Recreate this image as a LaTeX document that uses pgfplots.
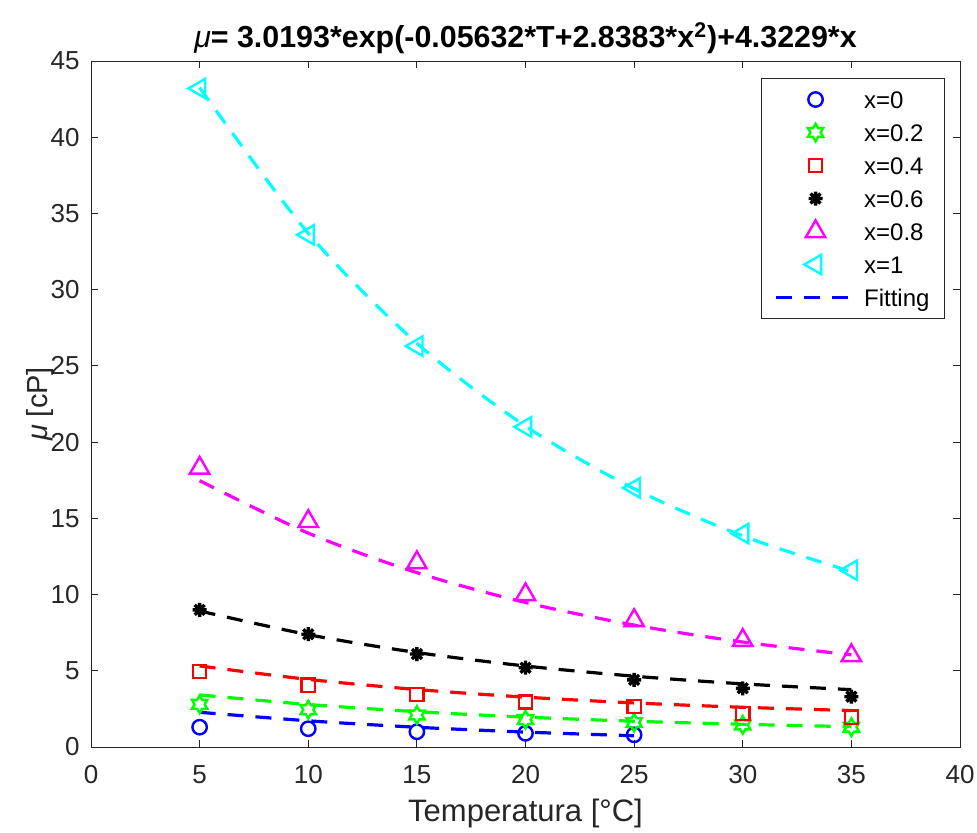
\documentclass[border=0pt]{standalone}
\usepackage{pgfplots}
\pgfplotsset{compat=1.18}
\usepackage{fontspec}
\setmainfont{Liberation Sans}
\definecolor{mlgray}{RGB}{38,38,38}
\definecolor{mlgreen}{RGB}{0,255,0}
\definecolor{mlblue}{RGB}{0,0,255}
\definecolor{mlred}{RGB}{255,0,0}
\definecolor{mlmag}{RGB}{255,0,255}
\definecolor{mlcyan}{RGB}{0,255,255}
\pgfdeclareplotmark{hexagram}{%
  \pgfpathmoveto{\pgfpointpolar{90}{\pgfplotmarksize}}%
  \pgfpathlineto{\pgfpointpolar{120}{0.57735\pgfplotmarksize}}%
  \pgfpathlineto{\pgfpointpolar{150}{\pgfplotmarksize}}%
  \pgfpathlineto{\pgfpointpolar{180}{0.57735\pgfplotmarksize}}%
  \pgfpathlineto{\pgfpointpolar{210}{\pgfplotmarksize}}%
  \pgfpathlineto{\pgfpointpolar{240}{0.57735\pgfplotmarksize}}%
  \pgfpathlineto{\pgfpointpolar{270}{\pgfplotmarksize}}%
  \pgfpathlineto{\pgfpointpolar{300}{0.57735\pgfplotmarksize}}%
  \pgfpathlineto{\pgfpointpolar{330}{\pgfplotmarksize}}%
  \pgfpathlineto{\pgfpointpolar{0}{0.57735\pgfplotmarksize}}%
  \pgfpathlineto{\pgfpointpolar{30}{\pgfplotmarksize}}%
  \pgfpathlineto{\pgfpointpolar{60}{0.57735\pgfplotmarksize}}%
  \pgfpathclose
  \pgfusepathqstroke}
\pgfdeclareplotmark{mstar}{%
  \pgfpathmoveto{\pgfqpoint{0pt}{\pgfplotmarksize}}%
  \pgfpathlineto{\pgfqpoint{0pt}{-\pgfplotmarksize}}%
  \pgfpathmoveto{\pgfqpoint{\pgfplotmarksize}{0pt}}%
  \pgfpathlineto{\pgfqpoint{-\pgfplotmarksize}{0pt}}%
  \pgfpathmoveto{\pgfpointpolar{45}{\pgfplotmarksize}}%
  \pgfpathlineto{\pgfpointpolar{225}{\pgfplotmarksize}}%
  \pgfpathmoveto{\pgfpointpolar{135}{\pgfplotmarksize}}%
  \pgfpathlineto{\pgfpointpolar{315}{\pgfplotmarksize}}%
  \pgfusepathqstroke}
\pgfplotsset{mylegimg/.style={legend image code/.code={\draw[mark repeat=2,mark phase=2,##1] plot coordinates {(0pt,0pt) (20pt,0pt) (40pt,0pt)};}}}
\begin{document}
\begin{tikzpicture}
\path[use as bounding box] (-45.5pt,-42.5pt) rectangle (443pt,373.5pt);
\begin{axis}[
  scale only axis, width=434.5pt, height=343pt,
  xmin=0, xmax=40, ymin=0, ymax=45,
  xtick={0,5,...,40}, ytick={0,5,...,45},
  tick align=inside, major tick length=3.5pt,
  axis line style={mlgray, line width=0.5pt},
  every tick/.style={mlgray, line width=0.5pt},
  /pgf/number format/assume math mode=true,
  ticklabel style={font=\fontsize{13}{15}\selectfont, text=mlgray},
  xticklabel style={anchor=base, yshift=-18pt},
  yticklabel style={anchor=east, inner sep=0pt, xshift=-5.5pt},
  title={{\mdseries\itshape μ}= 3.0193*exp(-0.05632*T+2.8383*x\textsuperscript{2})+4.3229*x},
  title style={at={(axis description cs:0.5,1)}, anchor=base, yshift=0.5pt, font=\fontsize{15.2}{18}\selectfont\bfseries, text=black, inner sep=0pt},
  xlabel={Temperatura [°C]},
  xlabel style={at={(axis description cs:0.5,-0.1093)}, anchor=base, font=\fontsize{15.5}{18}\selectfont, text=mlgray, inner sep=0pt},
  ylabel={{\itshape μ} [cP]},
  ylabel style={at={(axis description cs:-0.0495,0.5)}, anchor=base, font=\fontsize{14.5}{17}\selectfont, text=mlgray, inner sep=0pt},
  mylegimg,
  legend cell align=left,
  legend style={at={(axis description cs:1,1)}, anchor=north east, xshift=-7.5pt, yshift=-8.5pt,
    draw=mlgray, line width=0.5pt, font=\fontsize{12}{14}\selectfont, text=black,
    inner xsep=6pt, inner ysep=3pt, row sep=1.5pt,
    nodes={text height=10.5pt, text depth=1.5pt, inner sep=1.5pt},
    /tikz/every odd column/.append style={column sep=2pt}},
]
% measured data
\addplot[mlblue, only marks, mark=o, mark size=3.6pt, line width=1.2pt, mylegimg] coordinates {(5,1.3) (10,1.2) (15,1.0) (20,0.9) (25,0.8)};
\addlegendentry{x=0}
\addplot[mlgreen, only marks, mark=hexagram, mark size=4.4pt, line width=1.2pt, mylegimg] coordinates {(5,2.8) (10,2.45) (15,2.1) (20,1.8) (25,1.6) (30,1.45) (35,1.3)};
\addlegendentry{x=0.2}
\addplot[mlred, only marks, mark=square, mark size=3.3pt, line width=1.2pt, mylegimg] coordinates {(5,4.95) (10,4.05) (15,3.45) (20,2.95) (25,2.65) (30,2.2) (35,1.95)};
\addlegendentry{x=0.4}
\addplot[black, only marks, mark=mstar, mark size=3.5pt, line width=1.7pt, mylegimg] coordinates {(5,9.0) (10,7.4) (15,6.1) (20,5.2) (25,4.4) (30,3.85) (35,3.3)};
\addlegendentry{x=0.6}
\addplot[mlmag, only marks, mark=triangle, mark size=5.6pt, line width=1.2pt, mylegimg] coordinates {(5,18.3) (10,14.8) (15,12.1) (20,10.0) (25,8.3) (30,7.0) (35,6.0)};
\addlegendentry{x=0.8}
\addplot[mlcyan, only marks, mark=triangle, mark options={rotate=90}, mark size=5.6pt, line width=1.2pt, mylegimg] coordinates {(5,43.2) (10,33.6) (15,26.3) (20,21.0) (25,17.0) (30,14.0) (35,11.6)};
\addlegendentry{x=1}
% fitted curves
\addplot[mlblue, no marks, smooth, line width=1.6pt, dash pattern=on 8pt off 6pt, mylegimg] coordinates {(5,2.278) (10,1.719) (15,1.297) (20,0.979) (25,0.739)};
\addlegendentry{Fitting}
\addplot[mlgreen, no marks, smooth, line width=1.6pt, dash pattern=on 8pt off 6pt, forget plot] coordinates {(5,3.417) (10,2.790) (15,2.318) (20,1.961) (25,1.692) (30,1.489) (35,1.336)};
\addplot[mlred, no marks, smooth, line width=1.6pt, dash pattern=on 8pt off 6pt, forget plot] coordinates {(5,5.317) (10,4.436) (15,3.772) (20,3.271) (25,2.892) (30,2.607) (35,2.392)};
\addplot[black, no marks, smooth, line width=1.6pt, dash pattern=on 8pt off 6pt, forget plot] coordinates {(5,8.923) (10,7.370) (15,6.198) (20,5.313) (25,4.646) (30,4.142) (35,3.762)};
\addplot[mlmag, no marks, smooth, line width=1.6pt, dash pattern=on 8pt off 6pt, forget plot] coordinates {(5,17.471) (10,14.031) (15,11.437) (20,9.479) (25,8.001) (30,6.886) (35,6.045)};
\addplot[mlcyan, no marks, smooth, line width=1.6pt, dash pattern=on 8pt off 6pt, forget plot] coordinates {(5,43.252) (10,33.697) (15,26.488) (20,21.048) (25,16.943) (30,13.846) (35,11.509)};
\end{axis}
\end{tikzpicture}
\end{document}
